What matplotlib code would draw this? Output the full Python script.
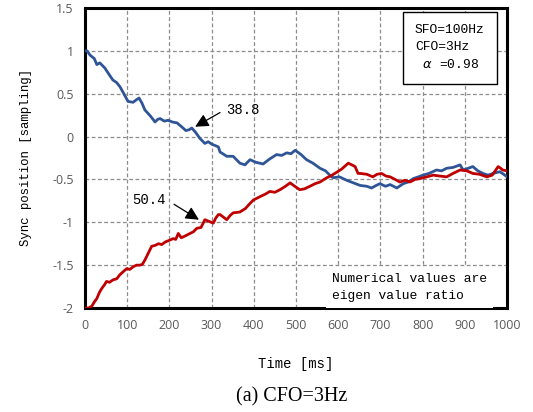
import matplotlib
matplotlib.use("Agg")
import matplotlib.pyplot as plt

# Blue curve (eigen value ratio 38.8)
blue_t = [0, 5, 12, 17, 22, 28, 35, 47, 55, 66, 75, 83, 92, 102, 114, 122, 128, 135,
          142, 155, 166, 172, 178, 188, 197, 207, 218, 230, 239, 247, 253, 262, 272,
          284, 292, 301, 316, 320, 336, 351, 367, 379, 391, 405, 422, 438, 454, 466,
          478, 488, 498, 512, 525, 540, 557, 570, 580, 588, 603, 620, 636, 652, 668,
          679, 690, 699, 712, 723, 739, 754, 766, 778, 790, 801, 815, 833, 845, 857,
          872, 889, 896, 908, 919, 931, 943, 955, 967, 983, 995, 1000]
blue_v = [1.0, 1.0, 0.95, 0.93, 0.91, 0.84, 0.86, 0.80, 0.74, 0.66, 0.63, 0.58, 0.50,
          0.41, 0.40, 0.43, 0.45, 0.39, 0.31, 0.24, 0.17, 0.20, 0.21, 0.18, 0.19,
          0.17, 0.16, 0.11, 0.07, 0.08, 0.10, 0.05, -0.02, -0.08, -0.06, -0.09, -0.12,
          -0.18, -0.23, -0.23, -0.31, -0.33, -0.27, -0.30, -0.32, -0.26, -0.21, -0.22,
          -0.19, -0.20, -0.16, -0.21, -0.27, -0.31, -0.37, -0.40, -0.45, -0.48, -0.47,
          -0.51, -0.54, -0.57, -0.58, -0.60, -0.57, -0.55, -0.58, -0.56, -0.60, -0.55,
          -0.53, -0.49, -0.47, -0.45, -0.43, -0.39, -0.40, -0.37, -0.36, -0.33, -0.39,
          -0.37, -0.35, -0.40, -0.43, -0.45, -0.43, -0.41, -0.45, -0.47]

# Red curve (eigen value ratio 50.4)
red_t = [0, 8, 16, 22, 28, 34, 40, 46, 51, 58, 67, 75, 83, 92, 99, 106, 114, 122, 130,
         136, 142, 150, 158, 166, 174, 182, 190, 200, 209, 215, 221, 228, 233, 241,
         249, 257, 265, 275, 284, 294, 304, 310, 316, 320, 336, 344, 351, 367, 380,
         391, 399, 415, 428, 438, 450, 462, 475, 486, 497, 509, 520, 533, 545, 557,
         573, 582, 592, 608, 624, 632, 640, 647, 652, 668, 682, 692, 703, 713, 723,
         735, 746, 758, 770, 782, 794, 810, 825, 840, 857, 872, 889, 905, 919, 935,
         952, 965, 979, 985, 990, 1000]
red_v = [-2.0, -2.0, -1.98, -1.93, -1.89, -1.82, -1.77, -1.73, -1.69, -1.70, -1.67,
         -1.66, -1.61, -1.57, -1.54, -1.55, -1.52, -1.50, -1.50, -1.49, -1.44,
         -1.36, -1.28, -1.27, -1.25, -1.26, -1.23, -1.21, -1.19, -1.20, -1.13, -1.18,
         -1.17, -1.15, -1.13, -1.11, -1.07, -1.06, -0.97, -0.99, -1.01, -0.95, -0.91,
         -0.91, -0.97, -0.92, -0.89, -0.88, -0.84, -0.78, -0.74, -0.70, -0.67, -0.64,
         -0.65, -0.62, -0.58, -0.54, -0.58, -0.62, -0.61, -0.58, -0.55, -0.53, -0.48,
         -0.46, -0.43, -0.38, -0.31, -0.33, -0.35, -0.43, -0.43, -0.44, -0.47, -0.44,
         -0.43, -0.46, -0.47, -0.50, -0.53, -0.51, -0.53, -0.50, -0.49, -0.47, -0.45,
         -0.46, -0.47, -0.43, -0.39, -0.40, -0.43, -0.44, -0.47, -0.45, -0.35, -0.37,
         -0.39, -0.40]

x_ticks = list(range(0, 1001, 100))
y_ticks = [-2, -1.5, -1, -0.5, 0, 0.5, 1, 1.5]
y_tick_labels = ["-2", "-1.5", "-1", "-0.5", "0", "0.5", "1", "1.5"]

mono = "Liberation Mono"
tickfont = "Open Sans"

fig = plt.figure(figsize=(5.33, 4.12), dpi=100)
ax = fig.add_axes([85 / 533, 1 - 308 / 412, (507 - 85) / 533, 300 / 412])

ax.plot(blue_t, blue_v, color="#2F5597", lw=2.0, zorder=3)
ax.plot(red_t, red_v, color="#C00000", lw=2.0, zorder=3)

ax.set_xlim(0, 1000)
ax.set_ylim(-2, 1.5)
ax.set_xticks(x_ticks)
ax.set_yticks(y_ticks)
ax.set_yticklabels(y_tick_labels)
ax.grid(True, color="#8c8c8c", linestyle=(0, (3, 2)), linewidth=0.9)
ax.tick_params(length=0, labelsize=9, labelcolor="#595959", pad=8)
for lab in ax.get_xticklabels() + ax.get_yticklabels():
    lab.set_fontfamily(tickfont)
for s in ax.spines.values():
    s.set_linewidth(2.2)
    s.set_color("black")

ax.set_xlabel("Time [ms]", family=mono, fontsize=10, labelpad=18)
ax.set_ylabel("Sync position [sampling]", family=mono, fontsize=8.9, labelpad=15)

# Annotations
ax.text(375, 0.31, "38.8", family=mono, fontsize=10, va="center", ha="center")
ax.annotate("", xy=(261, 0.115), xytext=(320, 0.28),
            arrowprops=dict(arrowstyle="-|>", color="black", lw=0.9,
                            mutation_scale=20, shrinkA=0, shrinkB=0))
ax.text(152, -0.74, "50.4", family=mono, fontsize=10, va="center", ha="center")
ax.annotate("", xy=(270, -0.97), xytext=(211, -0.79),
            arrowprops=dict(arrowstyle="-|>", color="black", lw=0.9,
                            mutation_scale=20, shrinkA=0, shrinkB=0))

# Info box
ax.text((415 - 85) / 422, 1 - (24 - 8) / 300,
        "SFO=100Hz\nCFO=3Hz\n $\\alpha$ =0.98", transform=ax.transAxes,
        family=mono, fontsize=9.4, ha="left", va="top", linespacing=1.55,
        multialignment="left",
        bbox=dict(boxstyle="square,pad=0.95", fc="white", ec="black", lw=1.0),
        zorder=5)

# Bottom note
ax.text(0.585, 0.02, "Numerical values are\neigen value ratio", transform=ax.transAxes,
        family=mono, fontsize=9.4, ha="left", va="bottom", linespacing=1.6,
        bbox=dict(boxstyle="square,pad=0.45", fc="white", ec="none"), zorder=4)

fig.text(292 / 533, 1 - 397 / 412, "(a) CFO=3Hz", family="Liberation Serif",
         fontsize=14.5, ha="center", va="center")

fig.savefig("out.png", dpi=100)
